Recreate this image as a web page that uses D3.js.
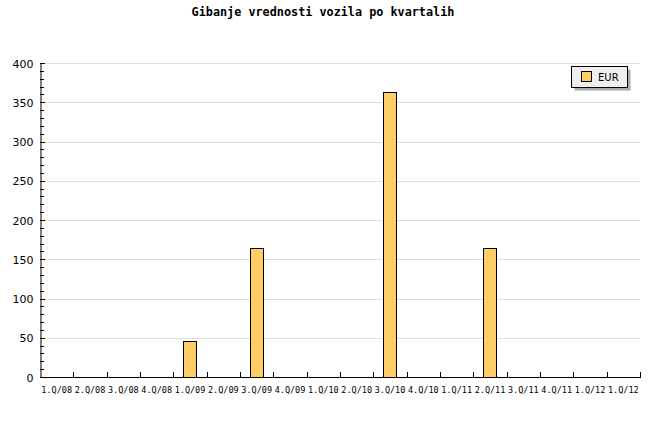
<!DOCTYPE html>
<html><head><meta charset="utf-8">
<script src="https://cdn.jsdelivr.net/npm/d3@7"></script>
<style>body{margin:0;background:#fff}svg{display:block}</style>
</head><body>
<script>
const title = "Gibanje vrednosti vozila po kvartalih";
const categories = ["1.Q/08","2.Q/08","3.Q/08","4.Q/08","1.Q/09","2.Q/09","3.Q/09","4.Q/09","1.Q/10","2.Q/10","3.Q/10","4.Q/10","1.Q/11","2.Q/11","3.Q/11","4.Q/11","1.Q/12","1.Q/12"];
const eurValues = [0,0,0,0,46,0,164,0,0,0,363,0,0,164,0,0,0,0];
const yTicks = [0,50,100,150,200,250,300,350,400];
const seriesName = "EUR";

const W=660,H=440, L=40, R=640, T=63, B=377;
const svg=d3.select("body").append("svg").attr("width",W).attr("height",H);
svg.append("rect").attr("width",W).attr("height",H).attr("fill","#fff");

const x=d3.scaleBand().domain(d3.range(categories.length)).range([L,R]).paddingInner(0).paddingOuter(0);
const y=d3.scaleLinear().domain([0,400]).range([B,T]);

// grid
svg.append("g").selectAll("line").data(yTicks.filter(d=>d>0)).join("line")
  .attr("x1",L).attr("x2",R).attr("y1",d=>Math.round(y(d))+0.5).attr("y2",d=>Math.round(y(d))+0.5)
  .attr("stroke","#dddddd").attr("stroke-width",1);

// bars
const bw = x.bandwidth()*0.4;
svg.append("g").selectAll("rect").data(eurValues.map((v,i)=>({v,i})).filter(d=>d.v>0)).join("rect")
  .attr("x",d=>Math.round(x(d.i)+x.bandwidth()/2-bw/2)+0.5)
  .attr("width",Math.round(bw))
  .attr("y",d=>Math.round(y(d.v))+0.5)
  .attr("height",d=>Math.round(B-y(d.v)))
  .attr("fill","#ffcc66").attr("stroke","#000").attr("stroke-width",1);

// y axis
const yAxis=d3.axisLeft(y).tickValues(yTicks).tickSize(0).tickPadding(7);
const gy=svg.append("g").attr("transform",`translate(${L+0.5},0.5)`).call(yAxis);
gy.select(".domain").attr("stroke","#000");
gy.selectAll("text").attr("font-family","'DejaVu Sans', sans-serif").attr("font-size","11px").attr("fill","#000");
// minor/major ticks pointing inward
const minor=d3.range(0,401,10);
svg.append("g").selectAll("line").data(minor).join("line")
  .attr("x1",L).attr("x2",d=>d%50===0?L+5:L+4)
  .attr("y1",d=>Math.round(y(d))+0.5).attr("y2",d=>Math.round(y(d))+0.5)
  .attr("stroke","#000");

// x axis
svg.append("line").attr("x1",L).attr("x2",R+1).attr("y1",B+0.5).attr("y2",B+0.5).attr("stroke","#000");
const bounds=d3.range(1,categories.length+1).map(i=>L+i*x.bandwidth());
svg.append("g").selectAll("line").data(bounds).join("line")
  .attr("x1",d=>Math.round(d)+0.5).attr("x2",d=>Math.round(d)+0.5)
  .attr("y1",B).attr("y2",B-5).attr("stroke","#000");
svg.append("g").selectAll("text").data(categories).join("text")
  .attr("x",(d,i)=>x(i)+x.bandwidth()/2).attr("y",393)
  .attr("text-anchor","middle").attr("font-family","'DejaVu Sans Mono', monospace")
  .attr("font-size","8.5px").attr("fill","#000").text(d=>d);

// title
svg.append("text").attr("x",323).attr("y",16).attr("text-anchor","middle")
  .attr("font-family","'DejaVu Sans Mono', monospace").attr("font-weight","bold")
  .attr("font-size","11.8px").attr("fill","#000").text(title);

// legend
const lg=svg.append("g");
lg.append("rect").attr("x",574.5).attr("y",69.5).attr("width",56).attr("height",21).attr("fill","#aaaaaa");
lg.append("rect").attr("x",571.5).attr("y",66.5).attr("width",56).attr("height",21).attr("fill","#eeeeee").attr("stroke","#000");
lg.append("rect").attr("x",581.5).attr("y",71.5).attr("width",10).attr("height",10).attr("fill","#ffcc66").attr("stroke","#000");
lg.append("text").attr("x",598).attr("y",81).attr("font-family","'DejaVu Sans', sans-serif").attr("font-size","10px").attr("fill","#000").text(seriesName);
</script>
</body></html>
